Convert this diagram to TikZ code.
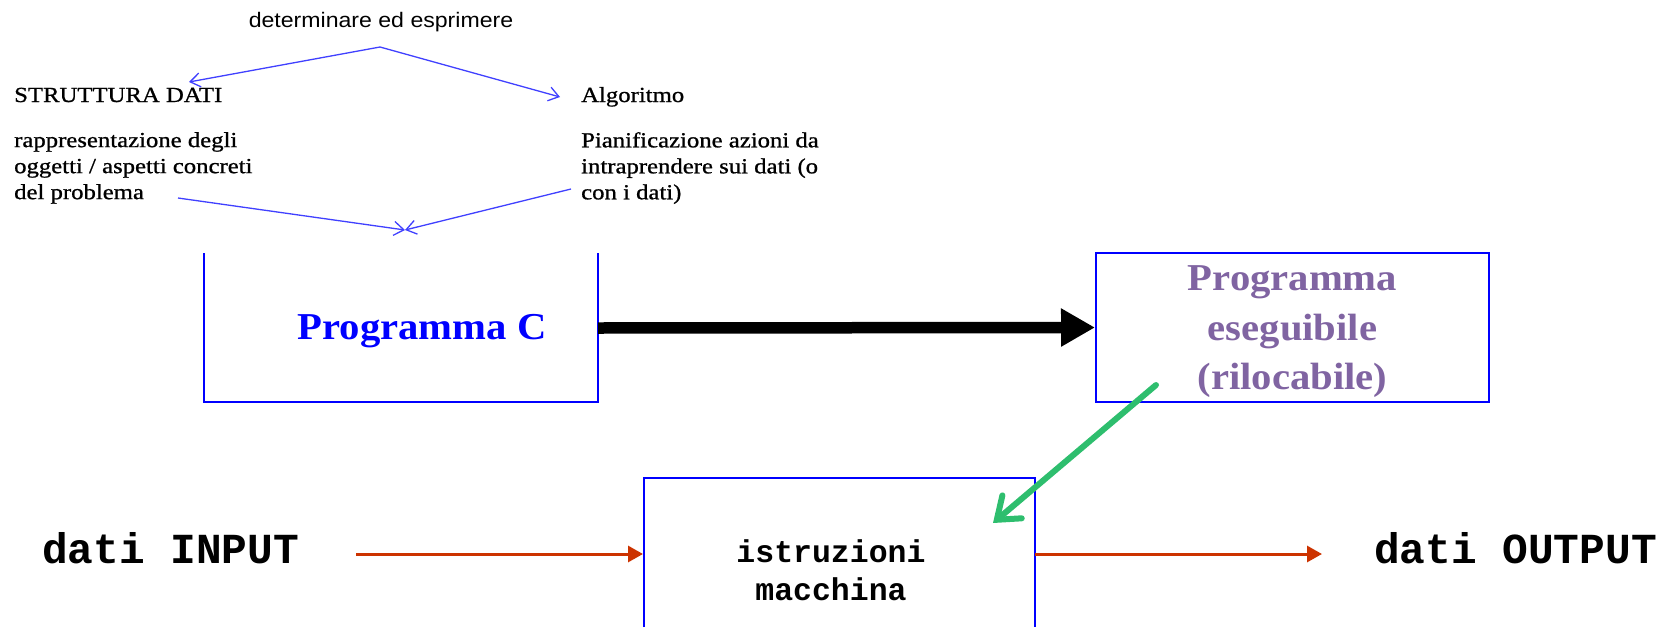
\documentclass[tikz,border=0pt]{standalone}
\usepackage{fontspec}
\setmainfont{Liberation Serif}
\newfontfamily\garafont[FakeStretch=1.15,FakeBold=0.9]{Liberation Serif}
\newfontfamily\garabold[FakeStretch=1.07]{Liberation Serif Bold}
\newfontfamily\sansf[FakeStretch=1.1]{Liberation Sans}
\newfontfamily\monof{Liberation Mono Bold}
\usetikzlibrary{arrows.meta}
\definecolor{thinblue}{RGB}{64,64,255}
\definecolor{boxblue}{RGB}{0,0,255}
\definecolor{purp}{RGB}{128,100,162}
\definecolor{grn}{RGB}{46,190,110}
\definecolor{redor}{RGB}{204,51,0}
\tikzset{
  thinarrow/.style={draw=thinblue, line width=1.3pt, -{Straight Barb[length=10pt,width=14pt]}},
  boxline/.style={draw=boxblue, line width=2pt},
  gtext/.style={inner sep=0pt, font=\garafont\fontsize{21.5}{26}\selectfont, text=black},
  bigarrow/.style={draw=black, line width=11.5pt, -{Triangle[length=34pt,width=36pt]}},
  redarrow/.style={draw=redor, fill=redor, line width=3pt, -{Triangle[length=15pt,width=16pt]}},
  greenarrow/.style={draw=grn, line width=6pt, line cap=round, -{Straight Barb[length=20pt,width=30pt,line cap=round]}},
  monolabel/.style={inner sep=0pt, font=\monof\fontsize{42.8}{42.8}\selectfont},
}
\begin{document}
\begin{tikzpicture}[x=1pt,y=-1pt]
\useasboundingbox (0,0) rectangle (1668,627);
% top texts
\node[inner sep=0pt, font=\sansf\fontsize{21}{21}\selectfont, anchor=base] (det) at (381,27) {determinare ed esprimere};
\coordinate (apex) at (380,47);
\node[gtext, anchor=base west] (sd) at (14,102) {STRUTTURA DATI};
\node[gtext, anchor=base west] (alg) at (581,102) {Algoritmo};
\node[gtext, anchor=north west, align=left] (sdtxt) at (14,132) {rappresentazione degli\\oggetti / aspetti concreti\\del problema};
\node[gtext, anchor=north west, align=left] (algtxt) at (581,132) {Pianificazione azioni da\\intraprendere sui dati (o\\con i dati)};
\coordinate (sdin) at (189,82);
\coordinate (algin) at (560,97);
\draw[thinarrow] (apex) -- (sdin);
\draw[thinarrow] (apex) -- (algin);
\coordinate (sdout) at (178,198);
\coordinate (algout) at (571,189);
\coordinate (conv) at (405,230);
\draw[thinarrow] (sdout) -- (conv);
\draw[thinarrow] (algout) -- (conv);
% Programma C box (open top)
\coordinate (pcTL) at (204,253);
\coordinate (pcBL) at (204,402);
\coordinate (pcBR) at (598,402);
\coordinate (pcTR) at (598,253);
\draw[boxline] (pcTL) -- (pcBL) -- (pcBR) -- (pcTR);
\node[inner sep=0pt, anchor=base, text=boxblue, font=\garabold\fontsize{38}{38}\selectfont] (pc) at (422,339) {Programma C};
% executable box
\node[boxline, minimum width=393pt, minimum height=149pt, inner sep=0pt] (exe) at (1292.5,327.5) {};
\node[inner sep=0pt, align=center, text=purp, font=\garabold\fontsize{38}{49.5}\selectfont] (exetxt) at (1292.5,332) {Programma\\eseguibile\\(rilocabile)};
\coordinate (pcR) at (598,328);
\draw[bigarrow] (pcR) -- (exe.west);
% machine box (open bottom)
\coordinate (imBL) at (644,627);
\coordinate (imTL) at (644,478);
\coordinate (imTR) at (1035,478);
\coordinate (imBR) at (1035,627);
\draw[boxline] (imBL) -- (imTL) -- (imTR) -- (imBR);
\node[inner sep=0pt, align=center, anchor=north, font=\monof\fontsize{31.5}{38}\selectfont] (im) at (831,539) {istruzioni\\macchina};
% green arrow
\coordinate (gs) at (1156,385);
\coordinate (ge) at (993,523);
\draw[greenarrow] (gs) -- (ge);
% input / output
\node[monolabel, anchor=base west] (din) at (42,563) {dati INPUT};
\node[monolabel, anchor=base west] (dout) at (1374,563) {dati OUTPUT};
\coordinate (inS) at (356,554);
\coordinate (inE) at (643,554);
\coordinate (outS) at (1035,554);
\coordinate (outE) at (1322,554);
\draw[redarrow] (inS) -- (inE);
\draw[redarrow] (outS) -- (outE);
\end{tikzpicture}
\end{document}
